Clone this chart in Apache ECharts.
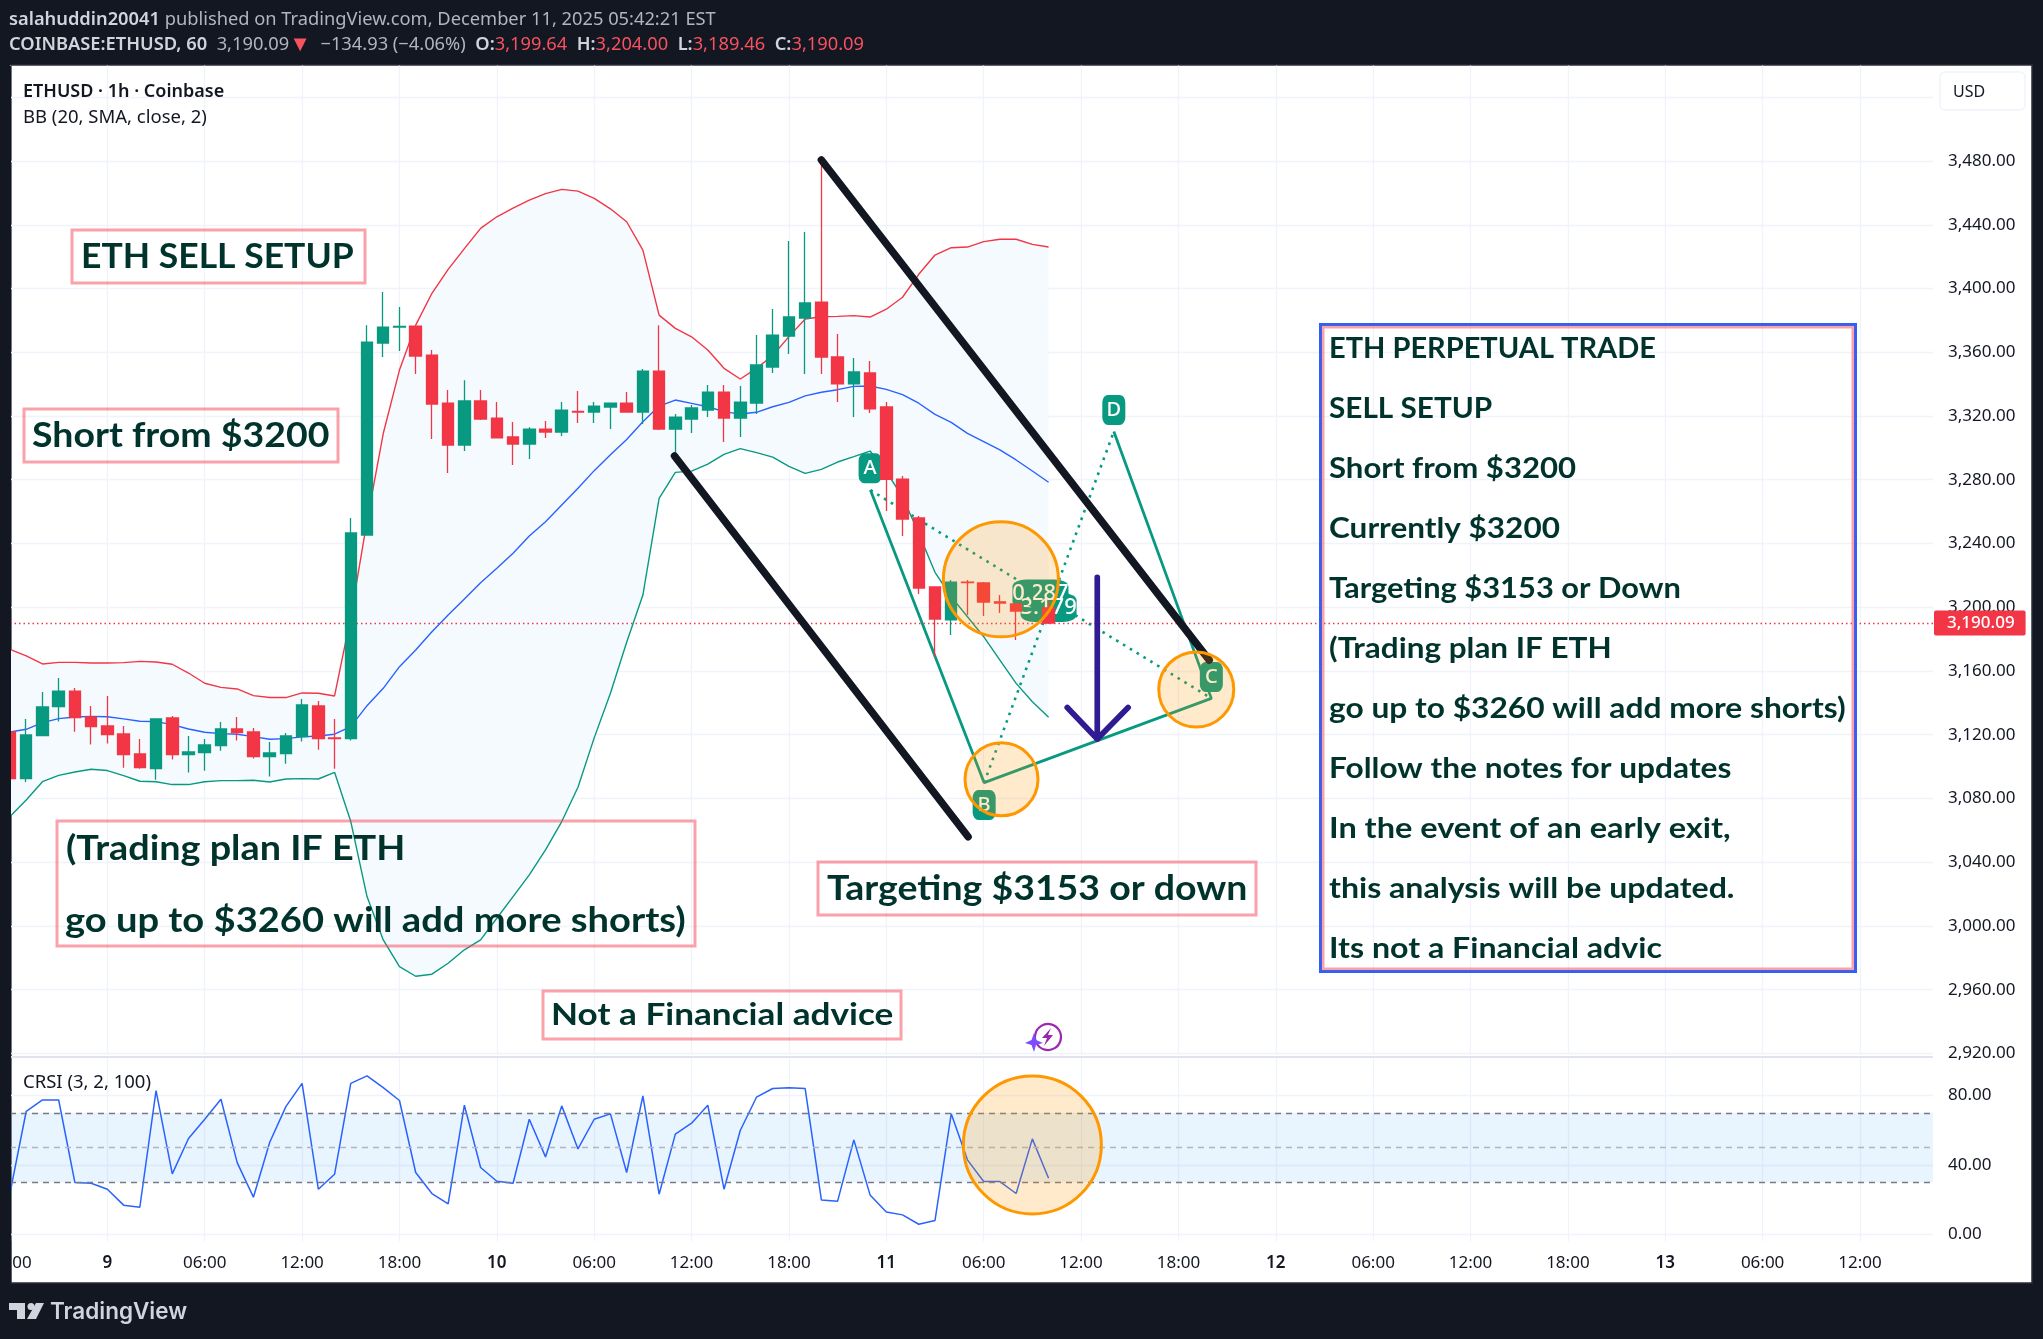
<!DOCTYPE html>
<html>
<head>
<meta charset="utf-8">
<title>ETHUSD 1h</title>
<style>
html,body{margin:0;padding:0;background:#131722;}
#chart{width:2043px;height:1339px;}
</style>
<script src="https://cdn.jsdelivr.net/npm/echarts@6/dist/echarts.min.js"></script>
</head>
<body>
<div id="chart"></div>
<script>
// hourly candles, hour 0 = Dec 9 00:00
var firstHour = -6;
var opens = [3121.7,3092.4,3119.4,3137.6,3147.4,3131.1,3125.5,3120.5,3107.9,3098.7,3130.5,3107.5,3108.8,3113.2,3123.6,3121.7,3106.2,3108.1,3118.8,3138,3118,3117.5,3245.3,3365.8,3375.8,3376.4,3358.2,3328.1,3301.8,3329.4,3318.7,3306.8,3302.4,3311.8,3309.9,3322.9,3322.5,3325.6,3328.1,3322.5,3348.2,3311.8,3318.1,3323.7,3335,3318.7,3328.1,3350.7,3370.2,3381.5,3391.5,3357,3340.1,3347,3325.7,3280.4,3256,3212.7,3192,3215.8,3215.2,3203.4,3202,3197.8,3199.64];
var closes = [3092.4,3119.8,3137.4,3147.4,3130.7,3125.1,3120,3107.5,3099.3,3129.9,3107.5,3109.2,3113.6,3123.6,3121.3,3106.2,3108.5,3119.2,3138.7,3117.5,3117.5,3246.6,3366.4,3375.8,3376.2,3357.6,3327.5,3301.8,3329.4,3318.1,3306.2,3302.4,3311.8,3309.9,3323.7,3322.5,3326.2,3328.1,3322.5,3348.2,3311.8,3319.3,3325,3335,3318.7,3328.7,3352,3370.8,3382.1,3390.9,3357,3340.1,3347.6,3324.4,3280.2,3255.3,3212,3192.6,3215.8,3215.4,3203.2,3202.6,3197.6,3199.5,3190.09];
var lows = [3090,3090.3,3119.4,3128.2,3121.9,3113.8,3114.4,3099.3,3098.7,3091.8,3104.4,3096.2,3097.4,3110,3116.3,3105,3093.7,3101.8,3115.7,3110.6,3098.7,3116.3,3245.3,3357,3360.7,3346.3,3305.5,3284.2,3298,3317.4,3306.2,3289.2,3293,3306.2,3307.4,3315.6,3315.6,3311.8,3322.5,3315,3311.2,3296.7,3309.3,3319.3,3303.6,3306.8,3321.2,3347,3358.9,3346.4,3346.4,3328.8,3319.4,3321.9,3260.4,3244.7,3208.3,3168.7,3182.5,3195.1,3194.5,3196.3,3179.4,3197.8,3189.46];
var highs = [3123,3129.9,3146.8,3155.6,3149.3,3138,3144.3,3125.5,3117.3,3129.9,3131.8,3119.2,3117.3,3128,3131.1,3124.2,3115.4,3121,3142.4,3141.2,3129.9,3256,3377,3397.8,3388.4,3376.4,3361.4,3336.3,3342.5,3336.3,3328.7,3316.2,3313,3316.8,3328.7,3335.6,3328.7,3328.1,3335,3349.5,3377,3321.2,3326.9,3339.4,3339.4,3338.8,3370.8,3387.2,3429.8,3435.5,3480.6,3371.5,3356.4,3354.5,3328.8,3282.3,3257.2,3212.7,3217,3217,3215.8,3207.6,3202,3214.5,3204];

// bollinger bands
var bbUpper = [3173.6,3169.4,3164.4,3165.4,3165.4,3165,3165,3165.2,3166,3165.6,3164.2,3158.7,3152.3,3149.7,3148.7,3144.5,3143.3,3143.3,3146.2,3146,3144.3,3194,3254,3309,3348.8,3377,3397,3412,3425,3437.7,3445,3450.5,3455.5,3459.5,3462.2,3461.1,3456.5,3450,3441.9,3424.1,3383.3,3375,3369.7,3361.4,3349.9,3343.2,3349.9,3358,3369.8,3380.9,3382.3,3382.5,3383,3382.1,3387,3394.5,3408.9,3421,3425.6,3426,3429.4,3430.9,3430.9,3427.7,3426];
var bbMiddle = [3121.7,3123.4,3127.6,3130.1,3131.1,3131.5,3131.3,3129.9,3128.4,3128.2,3126.3,3123.6,3121.5,3120.7,3120.3,3118.8,3117.1,3117.5,3118.6,3119.2,3120.3,3125.1,3138.2,3149.1,3162.7,3173.2,3184.6,3195.1,3205.1,3215.4,3224.4,3233.8,3244.7,3253.6,3264.1,3274.6,3285.7,3295.7,3305.3,3316.4,3326.2,3330,3327.9,3325.8,3322.7,3321.2,3322.3,3325.8,3328.5,3332.6,3334.9,3336.5,3338.6,3338.8,3336.7,3333.4,3328,3321,3316,3309.1,3303.9,3298.7,3292.4,3285.5,3278.4];
var bbLower = [3068.6,3079,3090.5,3094.5,3096.6,3098.3,3097.5,3094.3,3090.8,3090.5,3088.7,3088.7,3090.5,3091.2,3091.2,3091.4,3090.3,3092.2,3092.4,3092.2,3096.4,3065.5,3018.4,2991.2,2974.5,2968.4,2969.7,2976.6,2985,2991.2,3004.8,3018.4,3032,3047.7,3065.5,3087,3118,3146,3178,3207.6,3268.3,3284.6,3285.4,3289.8,3295.9,3299.5,3297,3294.2,3288.4,3284,3286.5,3291.1,3294.5,3298,3285,3269.3,3246.3,3221.9,3206.6,3194,3181.5,3166.8,3152.2,3140.7,3130.9];

// crsi pane
var crsi = [23.7,70.9,77.4,77.4,29.8,29.4,26,16.8,15.6,82.8,34.8,55.2,66.3,77.8,41.3,21.4,52.9,73.6,87,26,34.6,87,91.3,84.5,77.1,35.6,23.5,17.5,74.4,38.5,30.6,29.4,66.3,44.6,74,49.2,66.3,69.4,35.6,79.7,23.1,57.7,64,74.4,26,59.8,79,84,84.4,84,19.8,19.1,54.4,22.7,12.9,11.2,5.8,7.9,69.4,42.9,30.4,30.4,23.5,55,32.3];
var crsiLevels = [70,50,30];

// drawings, [hour, price]
var channelTop = [[44,3480.6],[67.9,3166.8]];
var channelBottom = [[34.95,3294.9],[53.04,3056]];
var patternA = [47.02,3273.5];
var patternB = [54.03,3089.9];
var patternC = [68.03,3142.8];
var patternD = [62.02,3310.2];
var arrowPath = [[61,3218.7],[61,3117.3],[59.15,3137.1],[61,3117.3],[62.9,3137.1]];
var badges = [['A',47,3287.2],['B',54.03,3075.9],['C',68.03,3156.2],['D',62.02,3323.8]];
var ratioBadges = [['0.287',57.5,3208.3],['3.179',58,3199.8]];
var priceCircles = [[55.06,3217.5,115],[55.1,3092,73],[67.1,3148.4,75]];
var crsiCircle = [[57,51.5,138]];

var sideNote = ['ETH PERPETUAL TRADE','SELL SETUP','Short from $3200','Currently $3200','Targeting $3153 or Down','(Trading plan IF ETH','go up to $3260 will add more shorts)','Follow the notes for updates','In the event of an early exit,','this analysis will be updated.','Its not a Financial advic'];
var sideNoteStretch = [1,1.025,1.073,1.086,1.063,1.085,1.094,1.092,1.12,1.106,1.108];

var UP = '#089981', DOWN = '#f23645', BLUE = '#2962ff', GRID = '#f0f3fa', INK = '#131722';
var NOTE_FONT = 'Lato', NOTE_COLOR = '#00332c', NOTE_BORDER = 'rgba(245,70,85,0.5)';
var UI_FONT = '"Noto Sans"';

var hours = opens.map(function(v,i){ return firstHour+i; });
function pairs(arr){ return arr.map(function(v,i){ return [hours[i],v]; }); }
function money(v){ return v.toLocaleString('en-US',{minimumFractionDigits:2,maximumFractionDigits:2}); }

var candles = opens.map(function(o,i){ return [hours[i],o,closes[i],lows[i],highs[i]]; });
var lastClose = closes[closes.length-1];

function lineSeries(data,color,width,z,extra){
	var s = {type:'line',data:data,showSymbol:false,symbol:'none',z:z,silent:true,
		lineStyle:{color:color,width:width}};
	for(var k in extra){ s[k]=extra[k]; }
	return s;
}

//badge series
function badgeSeries(list,size,font){
	return {type:'scatter',z:3,silent:true,symbol:'roundRect',symbolSize:size,
		itemStyle:{color:UP,opacity:1},
		label:{show:true,position:'inside',color:'#fff',fontFamily:UI_FONT,fontSize:font,fontWeight:500,
			formatter:function(p){ return p.data[2]; }},
		data:list.map(function(b){ return [b[1],b[2],b[0]]; })};
}

function circleSeries(data,xi,yi){
	return {type:'scatter',xAxisIndex:xi,yAxisIndex:yi,z:8,silent:true,data:data,
		symbolSize:function(v){ return v[2]; },
		itemStyle:{color:'rgba(255,152,0,0.2)',borderColor:'#ff9800',borderWidth:3,opacity:1}};
}

// text boxes on the chart, line = [text, x, y, stretch]
function noteBox(x,y,w,h,lines,font){
	var items = [{type:'rect',z:60,silent:true,shape:{x:x,y:y,width:w,height:h},
		style:{fill:'transparent',stroke:NOTE_BORDER,lineWidth:3}}];
	lines.forEach(function(t){
		items.push({type:'text',z:61,silent:true,x:t[1],y:t[2],scaleX:t[3]||1,
			style:{text:t[0],fill:NOTE_COLOR,fontFamily:NOTE_FONT,fontWeight:700,fontSize:font,textVerticalAlign:'middle'}});
	});
	return items;
}

var headN = {fontFamily:UI_FONT,fontSize:18.3,fill:'#b2b5be'};
var headB = {fontFamily:UI_FONT,fontSize:18.3,fontWeight:600,fill:'#d1d4dc'};
var headR = {fontFamily:UI_FONT,fontSize:18.3,fill:'#f7525f'};
var headT = {fontFamily:UI_FONT,fontSize:22,fill:'#f7525f'};

var graphics = [
	{type:'rect',z:-5,silent:true,shape:{x:11,y:65,width:2021,height:1218},style:{fill:'#fff',stroke:'#2a2e39',lineWidth:1.5}},
	{type:'rect',z:70,silent:true,shape:{x:0,y:66,width:11,height:1217},style:{fill:'#131722'}},
	{type:'line',z:1,silent:true,shape:{x1:11,y1:1057,x2:1933,y2:1057},style:{stroke:'#e0e3eb',lineWidth:2}},
	// header
	{type:'text',z:71,silent:true,x:9,y:20,style:{
		text:'{b|salahuddin20041}{n| published on TradingView.com, December 11, 2025 05:42:21 EST}',
		textVerticalAlign:'middle',rich:{b:headB,n:headN}}},
	{type:'text',z:71,silent:true,x:9,y:45,style:{
		text:'{b|COINBASE:ETHUSD, 60}{n|  3,190.09}{t|▼}{n|  −134.93 (−4.06%)  }{b|O:}{r|3,199.64}{b|  H:}{r|3,204.00}{b|  L:}{r|3,189.46}{b|  C:}{r|3,190.09}',
		textVerticalAlign:'middle',rich:{b:headB,n:headN,r:headR,t:headT}}},
	// pane legends
	{type:'text',z:61,silent:true,x:23,y:92,style:{text:'ETHUSD · 1h · Coinbase',fontFamily:UI_FONT,fontSize:18,fontWeight:600,fill:INK,textVerticalAlign:'middle'}},
	{type:'text',z:61,silent:true,x:23,y:118,style:{text:'BB (20, SMA, close, 2)',fontFamily:UI_FONT,fontSize:18.5,fill:INK,textVerticalAlign:'middle'}},
	{type:'text',z:61,silent:true,x:23,y:1083,style:{text:'CRSI (3, 2, 100)',fontFamily:UI_FONT,fontSize:18.5,fill:INK,textVerticalAlign:'middle'}},
	// USD button
	{type:'rect',z:61,silent:true,shape:{x:1940,y:72,width:85,height:38,r:5},style:{fill:'#fff',stroke:GRID,lineWidth:1.5}},
	{type:'text',z:62,silent:true,x:1953,y:92,style:{text:'USD',fontFamily:UI_FONT,fontSize:16,fill:INK,textVerticalAlign:'middle'}},
	// bolt icon
	{type:'arc',z:61,silent:true,shape:{cx:1048,cy:1037,r:13,startAngle:2.6,endAngle:9.3,clockwise:true},style:{stroke:'#9c27b0',fill:'none',lineWidth:2.2}},
	{type:'polygon',z:61,silent:true,shape:{points:[[1051,1028],[1042,1038],[1047,1038],[1044,1046],[1053,1035],[1048,1035]]},style:{fill:'#9c27b0'}},
	{type:'polygon',z:61,silent:true,shape:{points:[[1034,1033],[1036,1040],[1043,1043],[1036,1045],[1034,1052],[1031.5,1045],[1025,1043],[1031.5,1040]]},style:{fill:'#7c4dff'}},
	// logo
	{type:'polygon',z:71,silent:true,shape:{points:[[9,1303],[25,1303],[25,1319],[17,1319],[17,1310],[9,1310]]},style:{fill:'#d1d4dc'}},
	{type:'circle',z:71,silent:true,shape:{cx:31,cy:1306.5,r:3.5},style:{fill:'#d1d4dc'}},
	{type:'polygon',z:71,silent:true,shape:{points:[[36,1303],[44,1303],[36,1319],[27,1319]]},style:{fill:'#d1d4dc'}},
	{type:'text',z:71,silent:true,x:50,y:1312,style:{text:'TradingView',fontFamily:'Inter',fontSize:22.5,fontWeight:600,fill:'#d1d4dc',textVerticalAlign:'middle'}}
];

graphics = graphics
	.concat(noteBox(72,230,293,53,[['ETH SELL SETUP',81,257,1.015]],35))
	.concat(noteBox(24,409,314,53,[['Short from $3200',32,436,1.07]],35))
	.concat(noteBox(57,821,638,125,[['(Trading plan IF ETH',66,849,1.079],['go up to $3260 will add more shorts)',65,921,1.089]],35))
	.concat(noteBox(818,862,438,53,[['Targeting $3153 or down',827,889,1.07]],35))
	.concat(noteBox(543,991,358,48,[['Not a Financial advice',551,1015,1.134]],31));

// right side box, blue frame around the pink one
graphics.push({type:'rect',z:60,silent:true,shape:{x:1320.5,y:324.5,width:535,height:647},style:{fill:'transparent',stroke:BLUE,lineWidth:3}});
graphics = graphics.concat(noteBox(1323,327,530,642,sideNote.map(function(t,i){ return [t,1329,349+60*i,sideNoteStretch[i]]; }),29));

var series = [
	// band fill
	{type:'custom',z:1,silent:true,xAxisIndex:0,yAxisIndex:0,clip:true,data:[[hours[0],bbLower[0]]],
		renderItem:function(params,api){
			var pts = [];
			hours.forEach(function(h,i){ pts.push(api.coord([h,bbUpper[i]])); });
			for(var i=hours.length-1;i>=0;i--){ pts.push(api.coord([hours[i],bbLower[i]])); }
			return {type:'polygon',shape:{points:pts},style:{fill:'#f5fafe'}};
		}},
	lineSeries(pairs(bbUpper),DOWN,1.4,2),
	lineSeries(pairs(bbMiddle),BLUE,1.4,2),
	lineSeries(pairs(bbLower),UP,1.4,2),
	// harmonic pattern
	lineSeries([patternA,patternB,patternC,patternD],UP,2.8,3),
	lineSeries([patternA,patternC],UP,2.6,3,{lineStyle:{color:UP,width:2.6,type:[2.6,5.4]}}),
	lineSeries([patternB,patternD],UP,2.6,3,{lineStyle:{color:UP,width:2.6,type:[2.6,5.4]}}),
	badgeSeries(badges,[23,30],20),
	badgeSeries(ratioBadges,[56,29],22),
	{type:'candlestick',z:5,silent:true,barWidth:12,data:candles,
		itemStyle:{color:UP,color0:DOWN,borderColor:UP,borderColor0:DOWN,borderWidth:1.3},
		markLine:{silent:true,symbol:'none',animation:false,
			lineStyle:{color:DOWN,type:[1.5,3],width:1.3},
			label:{show:true,position:'end',distance:1,formatter:function(){ return money(lastClose); },
				backgroundColor:DOWN,color:'#fff',fontFamily:UI_FONT,fontSize:17,fontWeight:500,
				padding:[4,11,4,13],borderRadius:2},
			data:[{yAxis:lastClose}]}},
	// channel lines
	lineSeries(channelTop,INK,7.5,6,{lineStyle:{color:INK,width:7.5,cap:'round'}}),
	lineSeries(channelBottom,INK,7.5,6,{lineStyle:{color:INK,width:7.5,cap:'round'}}),
	lineSeries(arrowPath,'#311b92',5.7,6,{lineStyle:{color:'#311b92',width:5.7,cap:'round',join:'round'}}),
	circleSeries(priceCircles,0,0),
	// crsi
	lineSeries(pairs(crsi),BLUE,1.5,4,{xAxisIndex:1,yAxisIndex:1,
		markArea:{silent:true,itemStyle:{color:'rgba(33,150,243,0.1)'},
			data:[[{yAxis:crsiLevels[2]},{yAxis:crsiLevels[0]}]]},
		markLine:{silent:true,symbol:'none',animation:false,label:{show:false},
			data:[{yAxis:crsiLevels[0],lineStyle:{color:'#787b86',type:[6,5],width:1.3}},
				{yAxis:crsiLevels[1],lineStyle:{color:'#b2b5be',type:[6,5],width:1.3}},
				{yAxis:crsiLevels[2],lineStyle:{color:'#787b86',type:[6,5],width:1.3}}]}}),
	circleSeries(crsiCircle,1,1)
];

var chart = echarts.init(document.getElementById('chart'));
var option = {
	animation:false,
	backgroundColor:'#131722',
	textStyle:{fontFamily:UI_FONT},
	grid:[
		{left:10,right:110,top:65.4,height:988,outerBoundsMode:'none'},
		{left:10,right:110,top:1057.3,height:177,outerBoundsMode:'none'}
	],
	xAxis:[
		{type:'value',gridIndex:0,min:firstHour,max:112.5,interval:6,
			axisLine:{show:false},axisTick:{show:false},axisLabel:{show:false},
			splitLine:{show:true,showMaxLine:false,lineStyle:{color:GRID,width:1.3}}},
		{type:'value',gridIndex:1,min:firstHour,max:112.5,interval:6,
			axisLine:{show:false},axisTick:{show:true,length:7,lineStyle:{color:GRID,width:1.3}},
			splitLine:{show:true,showMaxLine:false,lineStyle:{color:GRID,width:1.3}},
			axisLabel:{show:true,showMinLabel:true,showMaxLabel:false,hideOverlap:false,margin:20,color:INK,fontSize:17,
				formatter:function(h){
					var d = ((h%24)+24)%24;
					if(d===0){ return '{d|'+(9+h/24)+'}'; }
					return (d<10?'0':'')+d+':00';
				},
				rich:{d:{fontSize:17,fontWeight:600,color:INK,fontFamily:UI_FONT}}}}
	],
	yAxis:[
		{type:'value',gridIndex:0,position:'right',min:2920,max:3540,interval:40,
			axisLine:{show:false},axisTick:{show:false},
			splitLine:{show:true,showMaxLine:false,lineStyle:{color:GRID,width:1.3}},
			axisLabel:{show:true,margin:15,color:INK,fontSize:17,
				formatter:function(v){ return v>3480?'':money(v); }}},
		{type:'value',gridIndex:1,position:'right',min:0,max:102,interval:40,
			axisLine:{show:false},axisTick:{show:false},
			splitLine:{show:true,showMaxLine:false,lineStyle:{color:GRID,width:1.3}},
			axisLabel:{show:true,margin:15,color:INK,fontSize:17,showMaxLabel:false,
				formatter:function(v){ return money(v); }}}
	],
	graphic:{elements:graphics},
	series:series
};
chart.setOption(option);
</script>
</body>
</html>
